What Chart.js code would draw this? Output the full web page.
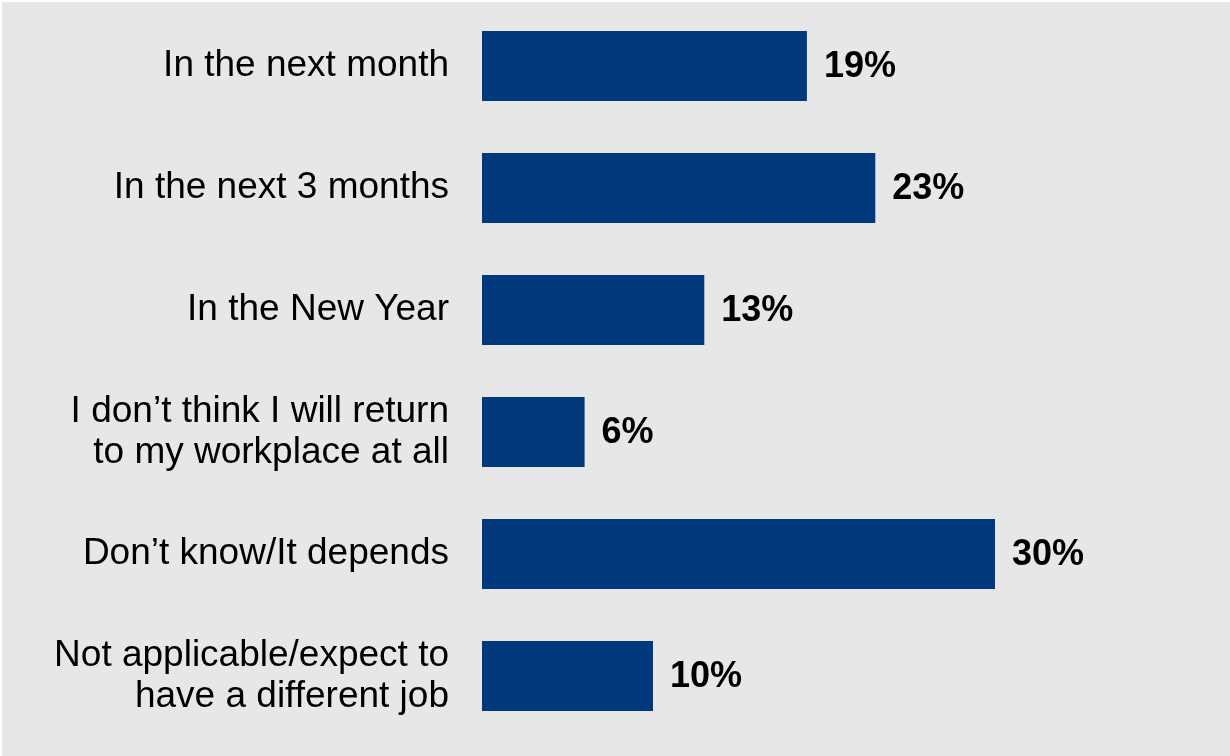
<!DOCTYPE html>
<html>
<head>
<meta charset="utf-8">
<script src="https://cdn.jsdelivr.net/npm/chart.js@4"></script>
<style>
    html, body { margin: 0; padding: 0; background: #ffffff; }
    #wrap { position: absolute; left: 2px; top: 2px; width: 1228px; height: 754px; background: #e7e7e7; }
</style>
</head>
<body>
<div id="wrap"><canvas id="returnChart"></canvas></div>
<script>
// Chart data
const categories = [
    'In the next month',
    'In the next 3 months',
    'In the New Year',
    ['I don\u2019t think I will return', 'to my workplace at all'],
    'Don\u2019t know/It depends',
    ['Not applicable/expect to', 'have a different job']
];
const shares = [19, 23, 13, 6, 30, 10];

// Draws the bold % label just past the end of each bar
const valueLabels = {
    id: 'valueLabels',
    afterDatasetsDraw(chart) {
        const ctx = chart.ctx;
        const meta = chart.getDatasetMeta(0);
        ctx.save();
        ctx.font = 'bold 36px "Liberation Sans", Arial, sans-serif';
        ctx.fillStyle = '#000000';
        ctx.textAlign = 'left';
        ctx.textBaseline = 'middle';
        meta.data.forEach((bar, i) => {
            ctx.fillText(shares[i] + '%', bar.x + 17, bar.y + 1);
        });
        ctx.restore();
    }
};

document.addEventListener("DOMContentLoaded", () => {
    const ctx = document.getElementById('returnChart').getContext('2d');
    new Chart(ctx, {
        type: 'bar',
        data: {
            labels: categories,
            datasets: [{
                data: shares,
                backgroundColor: '#003a7d',
                borderWidth: 0,
                categoryPercentage: 1,
                barPercentage: 0.574
            }]
        },
        options: {
            indexAxis: 'y',
            responsive: true,
            maintainAspectRatio: false,
            animation: false,
            layout: {
                padding: { top: 3, bottom: 19, right: 64, left: 0 }
            },
            plugins: {
                legend: { display: false },
                tooltip: { enabled: false }
            },
            scales: {
                x: {
                    display: false,
                    min: 0,
                    max: 40
                },
                y: {
                    grid: { display: false, drawTicks: false },
                    border: { display: false },
                    afterFit: (scale) => {
                        scale.width = 480;
                        scale.paddingTop = 0;
                        scale.paddingBottom = 0;
                    },
                    ticks: {
                        padding: 33,
                        color: '#000000',
                        font: { family: '"Liberation Sans", Arial, sans-serif', size: 37, lineHeight: 1.1 }
                    }
                }
            }
        },
        plugins: [valueLabels]
    });
});
</script>
</body>
</html>
